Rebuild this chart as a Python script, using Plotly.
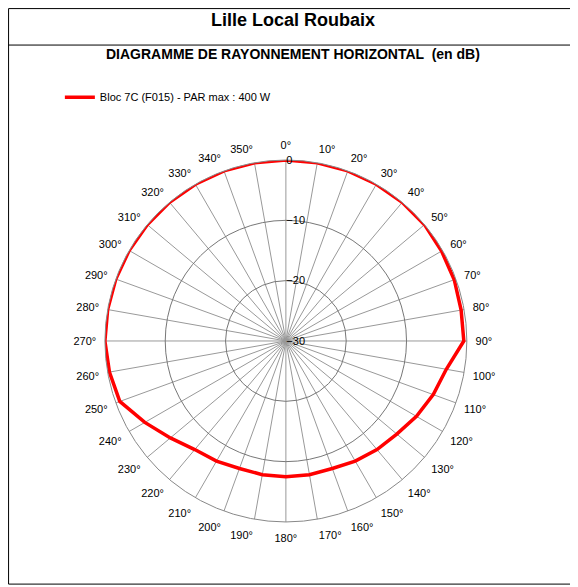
import plotly.graph_objects as go

angles = list(range(0, 360, 10))
levels = [0, 0, 0, 0, 0, 0, -0.2, -0.3, -0.5, -0.5, -3, -4, -5, -6, -6.5, -7, -7.5, -7.5,
          -7.5, -7.5, -7.5, -7, -6.5, -5, -3, -0.7, -0.3, 0, 0, 0, 0, 0, 0, 0, 0, 0]
series_name = "Bloc 7C (F015) - PAR max : 400 W"

fig = go.Figure()
fig.add_trace(go.Scatterpolar(
    r=levels + [levels[0]], theta=angles + [angles[0]], mode="lines",
    line=dict(color="#ff0000", width=3.5), name=series_name))

fig.update_layout(
    width=570, height=579, paper_bgcolor="white", plot_bgcolor="white",
    margin=dict(l=0, r=0, t=0, b=0),
    font=dict(family="Liberation Sans, Arial", size=11, color="black"),
    showlegend=True,
    legend=dict(x=0.091, y=0.846, xanchor="left", yanchor="middle", bgcolor="rgba(0,0,0,0)",
                font=dict(size=11)),
    polar=dict(
        domain=dict(x=[0.170, 0.805], y=[0.1123, 0.7375]),
        bgcolor="white", gridshape="linear",
        angularaxis=dict(rotation=90, direction="clockwise", dtick=10, ticksuffix="°",
                         showline=True, linecolor="#888", gridcolor="#999", gridwidth=0.7,
                         ticks="outside", ticklen=6, tickcolor="rgba(0,0,0,0)",
                         tickfont=dict(size=11)),
        radialaxis=dict(range=[-30, 0], tickvals=[-30, -20, -10, 0], angle=90, tickangle=90,
                        showline=False, gridcolor="#777", gridwidth=0.8, ticks="",
                        tickfont=dict(size=11)),
    ),
    shapes=[
        dict(type="rect", xref="paper", yref="paper", x0=0.001, x1=0.993, y0=0.005, y1=0.999,
             line=dict(color="black", width=1)),
        dict(type="line", xref="paper", yref="paper", x0=0.001, x1=0.993, y0=0.936, y1=0.936,
             line=dict(color="black", width=1)),
    ],
    annotations=[
        dict(text="<b>Lille Local Roubaix</b>", x=0.5, y=0.979, xref="paper", yref="paper",
             yanchor="middle", showarrow=False, font=dict(size=18)),
        dict(text="<b>DIAGRAMME DE RAYONNEMENT HORIZONTAL  (en dB)</b>", x=0.5, y=0.921,
             xref="paper", yref="paper", yanchor="middle", showarrow=False, font=dict(size=14)),
    ],
)
fig.write_html("out.html")
